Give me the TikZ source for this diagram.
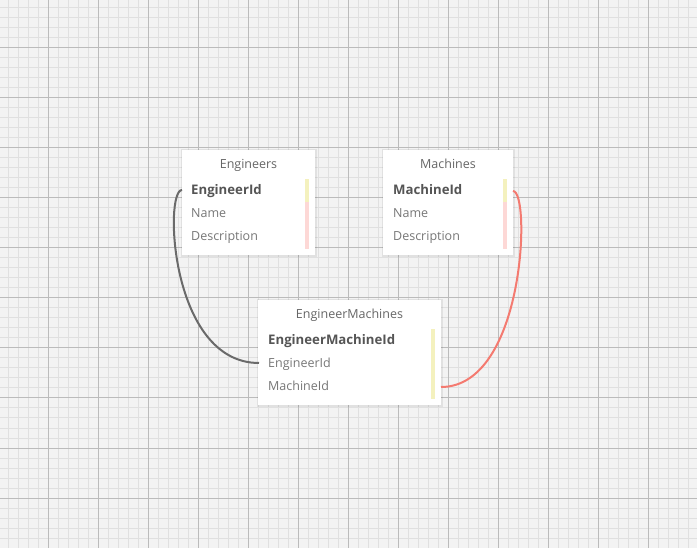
\documentclass[tikz,border=0pt]{standalone}
\usepackage{fontspec}
\newfontfamily\uifont{Open Sans}
\definecolor{bgc}{HTML}{F3F3F3}
\definecolor{minorc}{HTML}{E0E0E0}
\definecolor{majorc}{HTML}{BBBBBB}
\definecolor{titlec}{HTML}{666666}
\definecolor{fieldc}{HTML}{777777}
\definecolor{keyc}{HTML}{555555}
\definecolor{yellowbarc}{HTML}{F4F1BE}
\definecolor{pinkbarc}{HTML}{FDD8D6}
\definecolor{grayline}{HTML}{6A6A6A}
\definecolor{redline}{HTML}{F47A70}
\tikzset{
  tablebox/.style={fill=white, draw=none, anchor=north west, inner sep=0pt},
  shadowbox/.style={fill=black, opacity=0.07},
  titletxt/.style={anchor=base, inner sep=0pt, text=titlec, font=\uifont\fontsize{12.5}{14}\selectfont},
  keytxt/.style={anchor=base west, inner sep=0pt, text=keyc, font=\uifont\bfseries\fontsize{13.2}{15}\selectfont},
  fieldtxt/.style={anchor=base west, inner sep=0pt, text=fieldc, font=\uifont\fontsize{12.5}{14}\selectfont},
  grayconn/.style={draw=grayline, line width=2pt},
  redconn/.style={draw=redline, line width=2pt},
  yellowbar/.style={fill=yellowbarc},
  pinkbar/.style={fill=pinkbarc},
}
\begin{document}
\begin{tikzpicture}[x=1pt,y=-1pt]
\useasboundingbox (0,0) rectangle (697,548);
\fill[bgc] (0,0) rectangle (697,548);
\foreach \i in {8,18,...,688} \draw[minorc, line width=1pt] (\i,0) -- (\i,548);
\foreach \j in {8,18,...,538} \draw[minorc, line width=1pt] (0,\j) -- (697,\j);
\foreach \i in {48,98,...,648} \draw[majorc, line width=1pt] (\i,0) -- (\i,548);
\foreach \j in {48,98,...,498} \draw[majorc, line width=1pt] (0,\j) -- (697,\j);

% shadows
\fill[shadowbox] (180.5,149.5) rectangle (316.5,257);
\fill[shadowbox] (381.5,149.5) rectangle (514.5,257);
\fill[shadowbox] (256.5,299.5) rectangle (442.5,407);

% Engineers
\node[tablebox, minimum width=133pt, minimum height=105pt] (eng) at (182,150) {};
\node[titletxt] (engt) at (248.5,169) {Engineers};
\node[keytxt] (engid) at (191,194.5) {EngineerId};
\node[fieldtxt] (engname) at (191,218) {Name};
\node[fieldtxt] (engdesc) at (191,241) {Description};
\fill[yellowbar] (305,179) rectangle (309,202);
\fill[pinkbar] (305,202) rectangle (309,249);

% Machines
\node[tablebox, minimum width=130pt, minimum height=105pt] (mac) at (383,150) {};
\node[titletxt] (mact) at (448,169) {Machines};
\node[keytxt] (macid) at (393,194.5) {MachineId};
\node[fieldtxt] (macname) at (393,218) {Name};
\node[fieldtxt] (macdesc) at (393,241) {Description};
\fill[yellowbar] (503,179) rectangle (507,202);
\fill[pinkbar] (503,202) rectangle (507,249);

% EngineerMachines
\node[tablebox, minimum width=183pt, minimum height=105pt] (em) at (258,300) {};
\node[titletxt] (emt) at (349.5,319) {EngineerMachines};
\node[keytxt] (emid) at (268,345) {EngineerMachineId};
\node[fieldtxt] (emeid) at (268,368) {EngineerId};
\node[fieldtxt] (emmid) at (268,391) {MachineId};
\fill[yellowbar] (431,329) rectangle (435,399);

% connector end points
\coordinate (c-eng) at (182,190);
\coordinate (c-emeid) at (259,363);
\coordinate (c-mac) at (513,191);
\coordinate (c-emmid) at (441,387);

\draw[grayconn] (c-eng) .. controls +(-18,0) and +(-89,0) .. (c-emeid);
\draw[redconn] (c-mac) .. controls +(18,0) and +(84,0) .. (c-emmid);
\end{tikzpicture}
\end{document}
